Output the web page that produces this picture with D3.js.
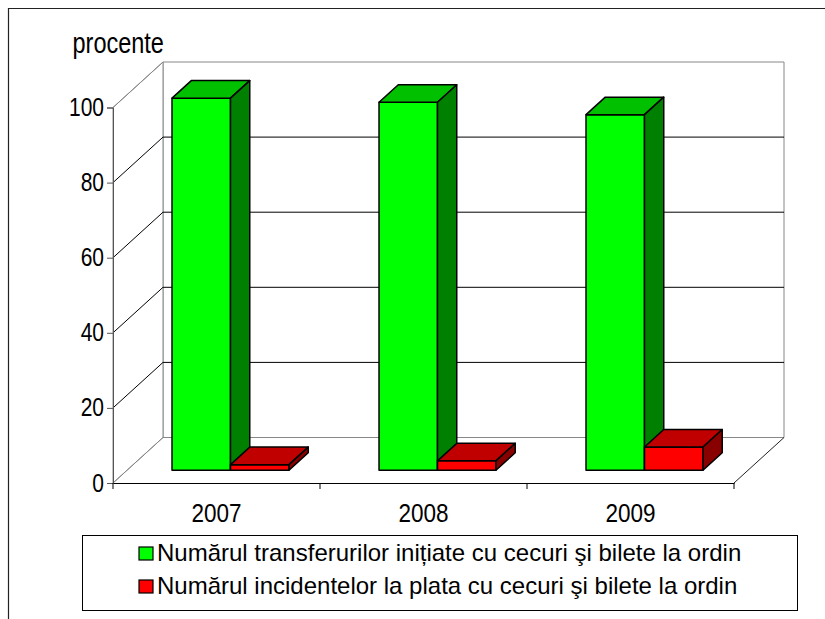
<!DOCTYPE html>
<html>
<head>
<meta charset="utf-8">
<script src="https://cdn.jsdelivr.net/npm/d3@7"></script>
<style>
  body { margin: 0; background: #fff; }
  text { font-family: "Liberation Sans", Arial, sans-serif; fill: #000; }
</style>
</head>
<body>
<div id="container"></div>
<script>
///data
const years = ["2007", "2008", "2009"];
const seriesNames = [
  "Numărul transferurilor inițiate cu cecuri şi bilete la ordin",
  "Numărul incidentelor la plata cu cecuri şi bilete la ordin"];
const transfers = [99.1, 98, 94.7];
const incidents = [1.5, 2.5, 6.2];
const yTicks = [0, 20, 40, 60, 80, 100];
const yTitle = "procente";

///declare size
let w = 825,
h = 619;
const depth = [50, -45.5]; // floor depth vector
const barZ = [0.28, 0.665]; // bars sit in the middle of the floor
const fronts = ["#00ff00", "#ff0000"],
tops = ["#00c000", "#c00000"],
sides = ["#008000", "#880000"];

let svg = d3.select("#container").
append("svg").
attr("width", w).
attr("height", h);

///outer frame (only top and left are inside the picture)
svg.append("path").
attr("d", "M8.5,619 L8.5,8.5 L825,8.5").
attr("fill", "none").
attr("stroke", "#222").
attr("stroke-width", 1.2);

///scales
let xScale = d3.scaleBand().
domain(years).
range([113, 734]);
let inner = d3.scaleBand().
domain([0, 1]).
range([0, xScale.bandwidth()]).
paddingOuter(0.77);
let yScale = d3.scaleLinear().
domain([0, 100]).
range([483, 107.5]);

const proj = (px, v, z) => [px + z * depth[0], yScale(v) + z * depth[1]];
const poly = pts => "M" + pts.map(p => p.join(",")).join("L") + "Z";

let x0 = xScale.range()[0],
x1 = xScale.range()[1];

///walls and floor
let walls = svg.append("g");
walls.append("path").
attr("d", poly([proj(x0, 0, 1), proj(x0, 100, 1), proj(x1, 100, 1), proj(x1, 0, 1)])).
attr("fill", "#fff").attr("stroke", "#888");
walls.append("path").
attr("d", poly([proj(x0, 0, 0), proj(x0, 100, 0), proj(x0, 100, 1), proj(x0, 0, 1)])).
attr("fill", "#fff").attr("stroke", "#888");

///gridlines on side and back wall
walls.selectAll(".grid").
data(yTicks.filter(t => t > 0 && t < 100)).
enter().
append("path").
attr("class", "grid").
attr("d", t => "M" + proj(x0, t, 0) + "L" + proj(x0, t, 1) + "L" + proj(x1, t, 1)).
attr("fill", "none").
attr("stroke", "#000").
attr("stroke-width", 1);
walls.append("path").
attr("d", "M" + proj(x0, 100, 0) + "L" + proj(x0, 100, 1)).
attr("stroke", "#888");

///floor
walls.append("path").
attr("d", "M" + proj(x0, 0, 0) + "L" + proj(x0, 0, 1) + "L" + proj(x1, 0, 1)).
attr("fill", "none").attr("stroke", "#888");
walls.append("path").
attr("d", "M" + proj(x1, 0, 0) + "L" + proj(x1, 0, 1)).
attr("fill", "none").attr("stroke", "#222");

///Y-Axis
let yAxis = d3.axisLeft(yScale).
tickValues(yTicks).
tickSize(6).
tickPadding(6);
let yAxisGroup = svg.append("g").
attr("transform", "translate(" + x0 + ",0)").
call(yAxis);
yAxisGroup.select(".domain").attr("stroke", "#555");
yAxisGroup.selectAll(".tick line").attr("stroke", "#555");
yAxisGroup.selectAll(".tick text").
attr("x", null).attr("dy", null).
attr("font-size", 21).
attr("text-anchor", "end").
attr("transform", "translate(-9,8) scale(1,1.25)");

///X-Axis
let xAxis = d3.axisBottom(xScale).
tickSize(0).
tickPadding(0);
let xAxisGroup = svg.append("g").
attr("transform", "translate(0," + yScale(0) + ")").
call(xAxis);
xAxisGroup.select(".domain").attr("stroke", "#000").attr("stroke-width", 1.2);
xAxisGroup.selectAll(".tick text").
attr("y", null).attr("dy", null).
attr("font-size", 22.5).
attr("transform", "translate(0,38.5) scale(1,1.16)");
// category boundary ticks
xAxisGroup.selectAll(".bound").
data(years.concat(["end"])).
enter().
append("line").
attr("class", "bound").
attr("x1", (d, i) => i < years.length ? xScale(d) : x1).
attr("x2", (d, i) => i < years.length ? xScale(d) : x1).
attr("y1", 0).attr("y2", 6).
attr("stroke", "#000");

///axis title
svg.append("text").
attr("transform", "translate(72.5,53) scale(1,1.25)").
attr("font-size", 23.5).
text(yTitle);

///bars
const series = [transfers, incidents];
let bars = svg.append("g");
years.forEach((yr, i) => {
  series.forEach((vals, s) => {
    let v = vals[i];
    let a = xScale(yr) + inner(s),
    b = a + inner.bandwidth();
    let g = bars.append("g").
    attr("stroke", "#000").
    attr("stroke-width", 1.5).
    attr("stroke-linejoin", "round");
    g.append("path").
    attr("d", poly([proj(a, 0, barZ[0]), proj(a, v, barZ[0]), proj(b, v, barZ[0]), proj(b, 0, barZ[0])])).
    attr("fill", fronts[s]);
    g.append("path").
    attr("d", poly([proj(a, v, barZ[0]), proj(a, v, barZ[1]), proj(b, v, barZ[1]), proj(b, v, barZ[0])])).
    attr("fill", tops[s]);
    g.append("path").
    attr("d", poly([proj(b, 0, barZ[0]), proj(b, v, barZ[0]), proj(b, v, barZ[1]), proj(b, 0, barZ[1])])).
    attr("fill", sides[s]);
  });
});

///Legend
const legend = svg.append("g").
attr("id", "legend");
legend.append("rect").
attr("x", 82.5).attr("y", 535.5).
attr("width", 715).attr("height", 75).
attr("fill", "#fff").
attr("stroke", "#000");
const legendGroups = legend.selectAll(".item").
data(seriesNames).
enter().
append("g").
attr("class", "item").
attr("transform", (d, i) => "translate(139," + (547 + i * 33) + ")");
legendGroups.append("rect").
attr("width", 14).
attr("height", 13).
attr("fill", (d, i) => fronts[i]).
attr("stroke", "#000").
attr("stroke-width", 1.2);
legendGroups.append("text").
attr("x", 18).
attr("y", 14).
attr("font-size", 24).
text(d => d);
</script>
</body>
</html>
